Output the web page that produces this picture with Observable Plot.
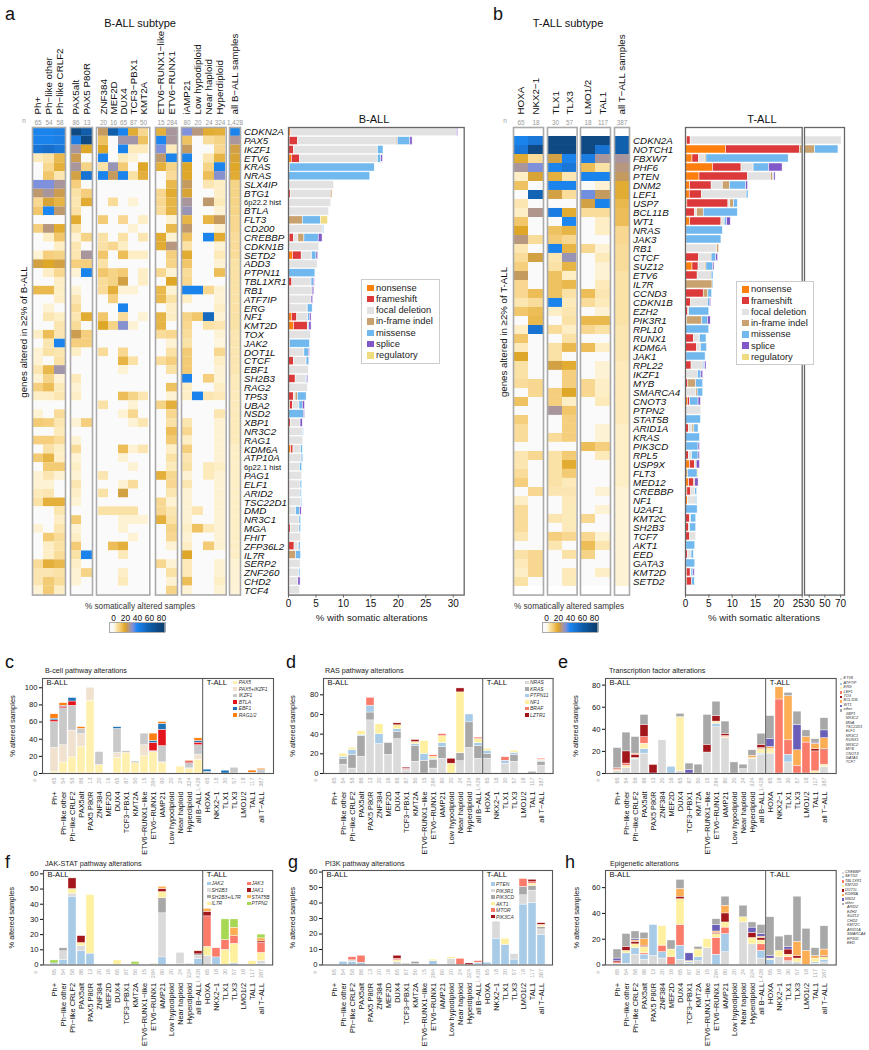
<!DOCTYPE html>
<html><head><meta charset="utf-8">
<script src="https://cdn.jsdelivr.net/npm/d3@7"></script>
<script src="https://cdn.jsdelivr.net/npm/@observablehq/plot@0.6"></script>
<style>
html,body{margin:0;padding:0;background:#fff}
#root{position:relative;width:869px;height:1050px;overflow:hidden;font-family:"Liberation Sans",Arial,sans-serif;color:#111}
#root>svg,#root>figure{position:absolute;margin:0}
.t{position:absolute;white-space:nowrap;line-height:1}
.sw{position:absolute}
</style></head><body><div id="root"></div>
<script>
const genesA=["CDKN2A","PAX5","IKZF1","ETV6","KRAS","NRAS","SLX4IP","BTG1","6p22.2 hist","BTLA","FLT3","CD200","CREBBP","CDKN1B","SETD2","ADD3","PTPN11","TBL1XR1","RB1","ATF7IP","ERG","NF1","KMT2D","TOX","JAK2","DOT1L","CTCF","EBF1","SH2B3","RAG2","TP53","UBA2","NSD2","XBP1","NR3C2","RAG1","KDM6A","ATP10A","6p22.1 hist","PAG1","ELF1","ARID2","TSC22D1","DMD","NR3C1","MGA","FHIT","ZFP36L2","IL7R","SERP2","ZNF260","CHD2","TCF4"];
const colsA=["Ph+","Ph−like other","Ph−like CRLF2","PAX5alt","PAX5 P80R","ZNF384","MEF2D","DUX4","TCF3−PBX1","KMT2A","ETV6−RUNX1−like","ETV6−RUNX1","iAMP21","Low hypodiploid","Near haploid","Hyperdiploid","all B−ALL samples"];
const nA=[65,54,58,86,13,20,16,65,87,50,15,284,80,20,24,324,1428];
const heatA=[
[42,42,44,75,62,24,62,42,19,9,18,28,33,26,19,18,42],
[42,42,44,45,75,14,0,29,29,14,40,28,14,0,8,10,28],
[50,52,48,28,20,20,0,42,5,5,33,5,24,0,0,9,22],
[5,7,16,23,0,42,0,5,3,0,25,42,42,0,6,17,21],
[0,9,18,28,10,7,30,12,0,20,18,10,20,0,10,42,20],
[0,13,6,22,50,42,24,42,7,18,0,8,20,0,15,32,19],
[33,33,28,11,0,0,0,0,0,0,0,16,24,0,6,4,10],
[25,28,23,7,11,0,0,0,0,0,9,19,21,0,0,4,10],
[9,21,17,6,19,0,8,0,3,0,9,17,28,0,25,5,10],
[13,40,25,7,0,0,0,0,0,0,8,17,30,0,0,3,10],
[0,0,0,19,0,12,0,9,0,4,0,3,17,0,17,24,9],
[11,26,19,7,0,0,0,0,3,0,0,16,25,0,0,3,9],
[0,4,13,3,10,7,0,7,0,6,19,3,14,0,42,19,8],
[0,0,4,6,0,7,9,4,0,0,19,26,7,0,0,3,8],
[3,11,10,6,28,13,0,15,4,4,0,11,19,0,0,5,8],
[22,20,22,11,11,7,0,0,0,0,0,10,13,0,0,3,7],
[0,4,9,3,42,13,10,12,0,4,9,3,8,0,0,15,7],
[0,0,4,0,0,8,10,22,0,4,0,20,9,0,0,0,7],
[16,16,4,3,0,8,18,3,3,0,16,3,42,42,9,3,7],
[0,0,4,6,0,0,11,0,0,0,16,7,4,0,0,3,7],
[0,3,0,8,0,0,0,42,0,0,0,4,0,0,0,4,7],
[0,6,4,6,19,13,0,8,0,3,17,4,10,13,55,3,7],
[0,0,6,8,0,20,10,32,3,0,17,0,9,0,7,6,7],
[4,15,6,23,11,0,0,0,0,0,8,9,8,0,0,3,6],
[0,6,42,11,11,0,0,0,0,0,0,3,7,0,0,2,6],
[3,7,6,4,0,8,0,9,0,0,0,7,12,0,0,9,6],
[3,0,7,0,0,0,0,17,7,0,8,11,12,0,0,4,6],
[6,16,29,0,0,0,0,3,0,0,0,7,12,0,0,3,6],
[3,10,3,5,0,0,0,0,0,0,0,0,42,0,11,3,5],
[11,15,5,3,0,0,0,0,0,0,0,14,4,0,0,4,5],
[4,4,6,4,0,0,0,15,10,6,0,3,4,42,6,5,5],
[0,0,0,0,0,7,0,0,3,0,10,18,0,0,0,0,5],
[3,0,8,0,0,0,0,3,9,0,0,9,0,0,0,6,5],
[12,11,6,3,11,0,0,0,3,6,0,7,6,0,0,3,5],
[0,0,5,0,0,0,0,0,0,0,0,15,9,0,0,3,5],
[11,11,8,3,0,0,0,0,0,0,0,12,4,0,0,3,5],
[0,7,4,8,0,0,0,15,3,6,0,4,11,0,0,3,4],
[12,17,4,3,0,0,0,3,0,0,0,7,6,0,0,3,4],
[0,12,12,4,0,0,0,0,3,0,0,5,7,0,5,4,4],
[3,6,3,3,0,6,0,0,0,0,18,9,3,0,5,3,4],
[3,3,0,6,0,0,0,3,8,0,0,9,6,0,0,3,4],
[5,6,0,4,0,7,0,22,0,0,0,6,3,0,0,3,4],
[7,18,18,3,0,0,0,0,0,0,9,3,3,0,0,3,4],
[0,0,6,0,0,7,7,7,7,0,9,6,3,6,0,3,4],
[0,0,4,12,0,0,0,3,3,3,18,7,3,0,0,3,4],
[3,0,6,3,0,0,0,3,0,0,0,10,4,14,5,3,4],
[0,12,8,4,0,0,0,0,3,0,0,9,3,0,0,3,4],
[0,4,7,12,0,0,15,18,0,0,0,3,4,0,12,3,4],
[0,4,8,7,42,0,0,5,0,0,0,0,20,0,0,0,4],
[8,18,16,4,0,0,0,0,0,0,9,3,5,0,0,3,3],
[6,6,7,3,10,0,0,4,0,0,0,7,5,0,0,3,3],
[6,12,8,3,0,0,0,5,0,0,0,3,15,0,0,4,3],
[3,12,4,0,0,0,0,0,0,0,0,10,3,0,0,3,3]];

const genesB=["CDKN2A","NOTCH1","FBXW7","PHF6","PTEN","DNM2","LEF1","USP7","BCL11B","WT1","NRAS","JAK3","RB1","CTCF","SUZ12","ETV6","IL7R","CCND3","CDKN1B","EZH2","PIK3R1","RPL10","RUNX1","KDM6A","JAK1","RPL22","IKZF1","MYB","SMARCA4","CNOT3","PTPN2","STAT5B","ARID1A","KRAS","PIK3CD","RPL5","USP9X","FLT3","MED12","CREBBP","NF1","U2AF1","KMT2C","SH2B3","TCF7","AKT1","EED","GATA3","KMT2D","SETD2"];
const colsB=["HOXA","NKX2−1","TLX1","TLX3","LMO1/2","TAL1","all T−ALL samples"];
const nB=[65,18,30,57,18,117,387];
const heatB=[
[42,48,75,75,75,75,60],[48,75,75,75,75,50,60],[19,8,22,42,45,28,28],[28,33,42,48,15,7,26],[4,21,18,6,42,42,24],
[14,0,42,42,0,3,19],[0,58,22,8,34,24,19],[6,0,0,0,22,42,16],[4,27,45,19,8,8,15],[13,0,0,40,0,4,15],
[20,0,14,17,0,4,9],[26,8,12,9,0,0,9],[6,0,42,17,9,3,8],[8,22,6,30,0,5,8],[11,0,7,17,0,3,8],
[24,0,14,4,0,3,7],[9,0,14,16,0,5,7],[9,15,14,7,15,6,7],[6,8,42,5,8,5,7],[13,15,4,6,0,3,7],
[0,16,0,7,16,16,7],[4,50,8,4,9,7,6],[13,0,0,7,0,0,6],[5,0,7,16,15,4,6],[20,0,7,0,0,0,6],
[7,0,22,19,0,3,5],[7,0,0,11,0,3,5],[8,9,0,11,9,4,5],[0,9,11,20,9,4,5],[14,0,11,4,0,5,5],
[0,0,28,13,0,0,5],[11,0,0,11,0,0,5],[8,0,0,11,0,3,4],[8,0,8,11,0,3,4],[0,0,0,0,15,11,4],
[6,9,7,12,0,5,4],[6,0,7,19,0,0,4],[8,0,7,12,0,0,4],[11,0,7,5,0,0,4],[0,9,6,6,0,3,3],
[4,0,0,5,0,0,3],[8,0,0,5,0,3,3],[8,0,6,5,9,0,3],[8,0,0,5,0,0,3],[6,0,11,9,9,3,3],
[0,0,6,0,15,6,3],[7,9,0,7,10,0,3],[5,9,0,0,0,0,3],[4,9,0,5,0,4,3],[7,0,0,5,0,0,3]];

const altTypes=["nonsense","frameshift","focal deletion","in-frame indel","missense","splice","regulatory"];
const altColors=["#ff7f0e","#dc3a3a","#e2e2e2","#c9a26f","#70b8ee","#8158c8","#efdc80"];
const barsA=[
[.4,.1,30.2,0,0,.2,0],[.2,1.5,18,.2,2.3,.4,0],[0,1,15.3,0,1,0,0],[.6,1.5,14.2,0,.6,.3,0],[0,0,0,.3,15.4,0,0],[0,0,0,0,14.9,0,0],
[0,0,8.3,0,0,0,0],[0,.4,7.3,.3,0,0,0],[0,.3,7.5,0,0,0,0],[0,.1,7.3,0,0,0,0],[0,0,0,2.6,3.3,0,1.3],[0,0,6.3,0,.2,0,0],
[.2,.8,.8,1.1,2.6,.7,0],[0,0,5.6,0,0,0,0],[.8,1.6,1.9,0,.8,.3,0],[0,0,5.3,0,0,0,0],[0,0,0,0,4.9,0,0],[0,.7,3.5,0,.4,.2,0],
[0,.2,4.2,0,0,.3,0],[0,.3,3.9,0,0,.3,0],[0,.3,3.1,.1,.9,0,0],[.6,1,2,0,.3,.3,0],[1,2.5,0,.1,.2,.4,0],[0,0,4.1,0,0,0,0],
[0,0,0,.3,3.6,0,0],[0,.3,2.6,0,.8,.2,0],[.1,.9,2.2,.1,.5,0,0],[0,0,3.7,0,0,0,0],[0,1.3,1.9,0,.2,.2,0],[0,0,3.5,0,0,0,0],
[0,1,.3,.4,1.6,0,0],[.3,.5,1.2,0,.6,.4,0],[0,0,0,0,2.8,.2,0],[0,.4,1.8,0,0,.4,0],[0,0,2.7,0,.1,0,0],[0,.2,2.5,0,0,0,0],
[.5,.4,1.4,0,.3,0,0],[0,0,2.4,0,.3,0,0],[0,.2,1.9,0,.4,0,0],[0,.1,2.4,0,0,0,0],[0,.3,1.9,0,.3,0,0],[.1,.2,1.9,0,.2,0,0],
[0,0,2.3,0,.2,0,0],[0,0,1.4,0,.7,.3,0],[0,.3,1.7,0,.3,0,0],[0,.4,1.6,0,.3,0,0],[0,0,2.3,0,0,0,0],[0,1.1,.7,.1,.3,0,0],
[0,0,0,1.4,.9,0,0],[0,0,2.2,0,0,0,0],[0,0,2,0,.2,0,0],[0,.3,1.5,0,0,.4,0],[0,0,2.1,0,0,0,0]];
const barsB=[
[.3,.8,70.2,0,0,0,0],[8.7,15.8,0,13,29.8,0,0],[1.5,1.4,1.3,.3,17.6,0,0],[5.9,6.1,2.6,0,3.3,2.9,0],[3,10.4,4.9,.5,.2,.3,0],
[1,4.6,2.4,1.5,3.5,.4,0],[.9,2.6,9.6,0,.4,0,0],[.4,8.8,.4,.8,.8,0,0],[0,2,.5,1.4,7.3,0,0],[1,6.7,.7,0,.5,.8,0],
[0,0,0,.2,7.8,0,0],[0,0,0,.2,7.5,0,0],[0,.3,6.5,.4,0,0,0],[0,2.9,2.5,.2,1,.4,0],[1.5,1.3,1.4,.3,1.4,.3,0],
[0,2.6,2.8,.2,.4,0,0],[0,0,0,5.8,.2,0,0],[0,3.9,0,1,.8,0,0],[0,1.2,3.6,0,.4,.3,0],[0,.6,.2,0,4.3,0,0],
[0,0,.3,3.3,1.2,.6,0],[0,0,0,0,5.1,0,0],[0,1.8,1.2,.1,1.4,0,0],[0,2.5,.6,.2,1.3,0,0],[0,0,0,.2,4.1,0,0],
[0,1.3,2.6,0,.3,.3,0],[0,.3,2.4,0,.7,.4,0],[0,.6,0,1.7,1.5,0,0],[0,.3,2,.3,1.2,0,0],[.5,.5,0,0,1.8,.5,0],
[0,0,3.4,0,0,0,0],[0,0,0,0,3.3,0,0],[0,.7,.8,.4,.9,0,0],[0,0,0,0,3.1,0,0],[0,0,0,.2,2.6,.3,0],
[0,.7,.7,0,1.4,.3,0],[1,1,.4,0,0,.7,0],[0,0,0,.6,2,0,.2],[.8,1,0,.3,0,.7,0],[.4,.8,.9,0,.4,0,0],
[.5,0,1.7,0,.3,0,0],[0,0,0,0,2.6,0,0],[0,1,.2,0,1.1,0,0],[0,.8,.2,0,1.3,0,0],[0,1,1.3,0,0,0,0],
[0,0,0,.2,1.9,0,0],[0,.5,.8,0,.5,0,0],[0,.2,0,0,1.9,0,0],[.3,.8,.2,0,.4,.3,0],[.3,1.1,0,0,.6,0,0]];

const cats=["Ph+","Ph−like other","Ph−like CRLF2","PAX5alt","PAX5 P80R","ZNF384","MEF2D","DUX4","TCF3−PBX1","KMT2A","ETV6−RUNX1−like","ETV6−RUNX1","iAMP21","Low hypodiploid","Near haploid","Hyperdiploid","all B−ALL","HOXA","NKX2−1","TLX1","TLX3","LMO1/2","TAL1","all T−ALL"];
const catN=[65,54,58,86,13,20,16,65,87,50,15,284,80,20,24,324,1428,65,18,30,57,18,117,387];

const bcellSeries=["PAX5","PAX5+IKZF1","IKZF1","BTLA","EBF1","RAG1/2"];
const bcellColors=["#fff0b0","#f1e2cf","#c9c9c9","#e3141c","#1f74b8","#ff7f10"];
const bcellVals=[[2,28,30,2,2,5],[13,20,43,2,1,3],[19,31,29,5,4,0],[31,15,6,0,0,2],[85,15,0,0,0,0],[10,0,15,0,0,0],[0,0,0,0,0,0],[18,6,28,0,2,0],[24,0,2,0,0,0],[12,0,2,0,0,0],[20,13,13.5,0,0,0],[25,0,1,9.5,2.5,8.5],[12,1,19,19,7,2],[0,0,0,0,0,0],[8,0,0,0,0,0],[5,1,6,2,0,1],[16,6,11,3,2,3],[0,0,2,0,2.5,0],[0,0,0,0,0,0],[0,0,0,0,3.3,0],[0,0,6.7,0,0,0],[0,0,0,0,0,0],[0,0,1,0,0,2.4],[0,0,3,0,1,1.5]];

const rasSeries=["NRAS","KRAS","PTPN11","NF1","BRAF","LZTR1"];
const rasColors=["#dadada","#a8a8a8","#a8cbe8","#fff0a0","#fb7b6b","#a3171c"];
const rasVals=[[0,0,0,0,0,0],[9,6,2,3,0,0],[5,14,5,2,0,0],[17,21,1,4,0,0],[54,8,7,0,8,0],[30,0,10,10,0,0],[19,12,0,0,0,0],[35,7,3,4,0,2],[3,1,0,0,1,1],[12,16,2,2,0,2],[0,13,7,13,0,0],[5,9,1,2,1.5,0],[15,12,4,7,2,0],[0,0,0,10,0,5],[12.5,8,0,62,0,4],[26,26,8,0,0,0],[15,13,3,4,1.5,0],[15,5,3,2,0,0],[0,0,0,0,0,0],[10,0,3,0,3.5,0],[12,7,2,2,0,0],[0,0,0,0,0,0],[0,1.7,0,0,0,0],[8,4,1,1,1,0]];

const tfSeries=["ETV6","ATF7IP","ERG","LEF1","TOX","BCL11B","WT1","other"];
const tfColors=["#dadada","#a8cbe8","#fff0b0","#fb7b6b","#a3171c","#fdae55","#6a5fb8","#a8a8a8"];
const tfOther=["XBP1","NR3C2","MGA","TSC22D1","ELF1","NR3C1","RUNX1","NR3C2","MYB","CNOT3","GATA3","TCF7"];
const tfVals=[[2,0,1,1,1,0,0,18],[5,0,2,2,11,0,0,17],[12,1,1,0,3,1,0,15],[18,4,5,6,11,0,0,9],[0,0,0,0,7.7,0,0,0],[30,0,0,0,0,0,0,0],[0,6,0,0,0,0,0,0],[2,0,49,0,0,0,0,3],[0,0,0,0,0,0,3,6],[0,0,0,0,0,0,0,8],[19,0,0,0,7,0,0,27],[42,3,2,0,5,0,0,13],[32,0,1,1,2,0,0,11],[0,0,0,0,0,0,0,10],[4,0,0,0,0,0,0,4],[13,0,1,0,0,2,0,5],[17,1,4,1,3,0,0,10],[18,0,4,0,0,2,7,21],[0,0,0,67,0,11,0,0],[10,7,0,13,0,40,0,3],[0,0,0,7,0,14,23,12],[0,0,0,28,0,5,0,6],[0,0,2,18,2,5,1,3],[6,0,2,13,1,10,7,11]];

const jakSeries=["JAK2","SH2B3","SH2B3+IL7R","IL7R","JAK3","JAK1","STAT5B","PTPN2"];
const jakColors=["#a8cbe8","#dadada","#a8a8a8","#fff0a0","#fb7b6b","#a3171c","#fdae55","#a6d854"];
const jakVals=[[1,0,0,0,0,0,0,2],[3.5,5.5,2,0,0,0,0,0],[45,2,0,3,0,7,0,0],[9,3.5,0,2,0,4.5,0,0],[7.5,0,0,38.5,0,0,0,0],[0,0,0,0,0,0,0,0],[0,0,0,0,0,0,0,0],[0,0,0,3,0,0,0,0],[0,0,0,0,0,0,0,0],[0,.3,0,0,0,0,0,1.7],[0,0,0,0,0,0,0,0],[.3,0,0,0,0,0,0,.3],[5,29,10,4,0,2,1.5,0],[0,0,0,0,0,0,0,0],[.5,7.5,0,0,0,0,0,0],[.5,.5,0,0,0,0,0,0],[4,2,1,0,0,2,.5,0],[0,6,0,6,20,3,2,0],[5,0,0,0,6,0,0,0],[0,0,0,10,6.5,0,0,13.5],[1,0,0,13,5,0,5.5,5.5],[0,0,0,0,0,0,0,0],[0,0,0,2.5,0,0,0,0],[.5,2,0,5.5,6.5,1,2,2.5]];

const piSeries=["PTEN","PIK3R1","PIK3CD","AKT1","MTOR","PIK3CA"];
const piColors=["#a8cbe8","#dadada","#a8a8a8","#fff0a0","#fb7b6b","#a3171c"];
const piVals=[[0,0,0,0,0,0],[2,0,0,0,0,0],[2,1,0,0,2,0],[1.5,0,0,0,4.5,0],[0,0,0,0,0,0],[0,0,0,0,0,0],[0,0,0,0,0,0],[0,2,0,1,1,2],[0,1,0,0,0,0],[0,.5,1.5,0,0,0],[0,0,0,0,0,0],[2.5,0,0,1,0,0],[0,0,0,0,0,0],[0,4,0,1,0,0],[0,0,0,0,4,0],[0,0,0,0,0,1],[1,.5,0,0,1,0],[1.5,0,0,0,0,0],[17,11,0,0,0,0],[13,0,0,4,0,0],[3.5,3.5,0,0,0,0],[39,6,5.5,0,5,0],[40,8,3,1.5,1,1.5],[19.5,3.5,1.5,1,.5,1]];

const epiSeries=["CREBBP","SETD2","TBL1XR1","KMT2D","DOT1L","KDM6A","NSD2","other"];
const epiColors=["#dadada","#a8cbe8","#fb7b6b","#fff0a0","#a3171c","#fdae55","#6a5fb8","#a8a8a8"];
const epiOther=["ARID2","EZH2","SUZ12","CHD2","KMT2C","ARID1A","SMARCA4","EP300","EED"];
const epiVals=[[0,1,1,0,1,0,2,7],[1,8,0,2,3,0,0,10],[8,5,0,3,2,1,1,6],[4,4,1,5,1,5,0,5],[7,24,0,0,0,0,0,0],[5,5,5,15,0,0,0,0],[0,0,6,6,0,0,0,7],[4,11,16,20,2,6,0,7],[1,1,0,1,0,0,6,0],[3,3,0,6,0,0,0,2],[13,0,0,7,0,0,0,0],[0,8,13,3,1,1,5,4.5],[10,14,5,4,7,6,0,7],[0,0,0,0,0,0,0,0],[33,0,0,4,0,0,0,9],[16,0,0,5,4,0,4,4],[5,6,5,3,2,1,2,7],[0,4,0,1,0,0,2,30],[6,0,0,5,0,0,0,11],[3,0,3,2,4,0,2,9],[2,0,0,3,2,11,0,35],[0,0,0,0,0,11,0,17],[1,1,0,3,0,2,0,6],[2,2,0,2,1,5,0,18]];

const root=document.getElementById("root");
const FONT='"Liberation Sans",Arial,sans-serif';
const style={background:"transparent",fontFamily:FONT,overflow:"visible"};
function put(node,x,y){node.style.left=x+"px";node.style.top=y+"px";root.appendChild(node);return node;}
function label(text,x,y,o={}){
  const d=document.createElement("div");d.className="t";d.textContent=text;
  d.style.fontSize=(o.size||10)+"px";
  if(o.italic)d.style.fontStyle="italic";
  if(o.color)d.style.color=o.color;
  const ax=o.anchor==="middle"?"-50%":o.anchor==="end"?"-100%":"0";
  d.style.transform=`translate(${ax},-50%)`+(o.rot?` rotate(${o.rot}deg)`:"");
  d.style.transformOrigin="center";
  d.style.left=x+"px";d.style.top=y+"px";root.appendChild(d);
}
const heatColor={type:"linear",clamp:true,
  domain:[0,1.5,4,8,13,20,24,28,33,40,50,60,75,90],
  range:["#fafafa","#fef8e6","#fdeec6","#f9dc9a","#f2c76b","#dfa728","#c59a5f","#a8969c","#7f90dc","#1c87f2","#1973d2","#1160ae","#0f4a85","#0c3a6a"]};

function heatGroup(cols,ns,rows,genes,first,x0,x1,y0,y1,showGenes){
  const mt=110,ml=4,mb=4,mr=showGenes?60:4;
  const data=[];
  genes.forEach((g,i)=>cols.forEach((c,j)=>data.push({gene:g,col:c,v:rows[i][first+j]})));
  const nOf=new Map(cols.map((c,j)=>[c,ns[j]]));
  const hist=genes.filter(g=>g.includes("hist")),plain=genes.filter(g=>!g.includes("hist"));
  const marks=[
    Plot.cell(data,{x:"col",y:"gene",fill:"v"}),
    Plot.frame({stroke:"#aaa",strokeWidth:1.6}),
    Plot.axisX({anchor:"top",tickRotate:-90,tickSize:0,tickPadding:13,fontSize:9.8,label:null}),
    Plot.axisX({anchor:"top",tickSize:0,tickPadding:2.5,fontSize:6.4,fill:"#999",tickFormat:d=>nOf.get(d),label:null})];
  if(showGenes){
    marks.push(Plot.axisY({anchor:"right",ticks:plain,tickSize:0,tickPadding:3.5,fontSize:9.8,fontStyle:"italic",label:null}));
    if(hist.length)marks.push(Plot.axisY({anchor:"right",ticks:hist,tickSize:0,tickPadding:3.5,fontSize:7.6,label:null}));
  }
  const p=Plot.plot({width:x1-x0+ml+mr,height:y1-y0+mt+mb,marginLeft:ml,marginRight:mr,marginTop:mt,marginBottom:mb,style,
    x:{domain:cols,padding:0,axis:null,label:null},y:{domain:genes,padding:0,axis:null,label:null},color:heatColor,marks});
  put(p,x0-ml,y0-mt);
}
const Y0=126.7,Y1=594.3;
[[0,3,32,65],[3,5,69.5,91.5],[5,10,95.7,149],[10,12,155,177],[12,16,181,225.7],[16,17,229.3,240.3]].forEach(([a,b,x0,x1])=>
  heatGroup(colsA.slice(a,b),nA.slice(a,b),heatA,genesA,a,x0,x1,Y0,Y1,b===17));
[[0,2,512.7,542.7],[2,4,546.7,576.3],[4,6,580.3,610.3],[6,7,614.3,629.3]].forEach(([a,b,x0,x1])=>
  heatGroup(colsB.slice(a,b),nB.slice(a,b),heatB,genesB,a,x0,x1,Y0,Y1,b===7));

function altPanel(genes,rows,x0,x1,domain,ticks,clip,nudged){
  const data=[];
  genes.forEach((g,i)=>altTypes.forEach((t,j)=>{if(rows[i][j]>0)data.push({gene:g,type:t,v:rows[i][j]});}));
  const ml=4,mr=4,mt=4,mb=20;
  const marks=[
      Plot.barX(data,{x:"v",y:"gene",fill:"type",order:altTypes,stroke:"white",strokeWidth:.5,clip}),
      Plot.frame({stroke:"#666",strokeWidth:1.3}),
      Plot.axisX({anchor:"bottom",ticks,tickSize:3,tickPadding:2,fontSize:10,tickFormat:d=>d===nudged?"":d,stroke:"#666",label:null})];
  if(nudged!==undefined)marks.push(Plot.axisX({anchor:"bottom",ticks:[nudged],tickSize:0,tickPadding:5,fontSize:10,dx:-4,tickFormat:d=>d,label:null}));
  const p=Plot.plot({width:x1-x0+ml+mr,height:Y1-Y0+mt+mb,marginLeft:ml,marginRight:mr,marginTop:mt,marginBottom:mb,style,
    x:{domain,axis:null,label:null},y:{domain:genes,padding:.09,axis:null,label:null},
    color:{domain:altTypes,range:altColors},marks});
  put(p,x0-ml,Y0-mt);
}
altPanel(genesA,barsA,288.3,464,[0,32],[0,5,10,15,20,25,30],false);
altPanel(genesB,barsB,685,801.7,[0,25],[0,5,10,15,20,25],true,25);
altPanel(genesB,barsB,804.3,844.3,[24,75],[30,50,70],true);

function stackPanel(series,colors,vals,x0,x1,y0,y1,domainY,ticks,ylabX){
  const data=[];
  cats.forEach((c,i)=>series.forEach((s,j)=>{if(vals[i][j]>0)data.push({cat:c,series:s,v:vals[i][j]});}));
  const nOf=new Map(cats.map((c,i)=>[c,catN[i]]));
  const ml=32,mr=4,mt=4,mb=78;
  const step=(x1-x0)/cats.length;
  const p=Plot.plot({width:x1-x0+ml+mr,height:y1-y0+mt+mb,marginLeft:ml,marginRight:mr,marginTop:mt,marginBottom:mb,style,
    x:{domain:cats,padding:.14,axis:null,label:null},y:{domain:domainY,axis:null,label:null},
    color:{domain:series,range:colors},
    marks:[
      Plot.barY(data,{x:"cat",y:"v",fill:"series",order:series,stroke:"white",strokeWidth:.4}),
      Plot.frame({stroke:"#555",strokeWidth:1.1}),
      Plot.ruleX(["HOXA"],{dx:-step/2,stroke:"#555",strokeWidth:1}),
      Plot.axisY({anchor:"left",ticks,tickSize:3,tickPadding:2,fontSize:7.6,label:null}),
      Plot.axisX({anchor:"bottom",tickRotate:-90,tickSize:0,tickPadding:18,fontSize:7.4,label:null}),
      Plot.axisX({anchor:"bottom",tickRotate:-90,tickSize:0,tickPadding:4,fontSize:5.5,fill:"#aaa",tickFormat:d=>nOf.get(d),label:null}),
      Plot.text(["B-ALL"],{frameAnchor:"top-left",dx:4,dy:1.5,textAnchor:"start",fontSize:7.6}),
      Plot.text(["T-ALL"],{x:()=>"HOXA",frameAnchor:"top",dx:-step/2+4,dy:1.5,textAnchor:"start",fontSize:7.6}),
      Plot.text(["% altered samples"],{frameAnchor:"left",textAnchor:"middle",rotate:-90,dx:ylabX-x0,fontSize:7.5})]});
  put(p,x0-ml,y0-mt);
  label("n",x0-7,y1+8,{size:5.5,color:"#aaa",anchor:"middle"});
}
stackPanel(bcellSeries,bcellColors,bcellVals,41.7,272.7,677.7,772.7,[0,110.8],[0,20,40,60,80,100],12);
stackPanel(rasSeries,rasColors,rasVals,322.7,552.3,677.7,772.7,[0,96.6],[0,20,40,60,80],292);
stackPanel(tfSeries,tfColors,tfVals,605,835.7,677.7,772.7,[0,86],[0,20,40,60,80],575);
stackPanel(jakSeries,jakColors,jakVals,42.8,272,870,964.5,[0,62.2],[0,10,20,30,40,50,60],11);
stackPanel(piSeries,piColors,piVals,322,552,870,964.5,[0,61],[0,10,20,30,40,50,60],292);
stackPanel(epiSeries,epiColors,epiVals,605,835.7,870,964.5,[0,73.3],[0,20,40,60],576);

function mini(items,colors,xs,xt,y,dy,size,sw){
  items.forEach((t,i)=>{
    const yy=y+i*dy;
    if(colors[i]){const s=document.createElement("div");s.className="sw";s.style.cssText=`left:${xs}px;top:${yy-sw/2}px;width:${sw}px;height:${sw}px;background:${colors[i]}`;root.appendChild(s);}
    label(t,xt,yy,{size,italic:true,color:"#333"});
  });
}
mini(bcellSeries,bcellColors,233,238.7,682.3,6.5,5,3.6);
mini(rasSeries,rasColors,525,530,682.3,6.5,5,3.6);
mini(tfSeries,tfColors,840,843.6,679.3,4.43,3.8,2.4);
mini(tfOther,[],0,845.7,679.3+8*4.43,4.43,3.8,2.4);
mini(jakSeries.slice(0,4),jakColors.slice(0,4),207,211.5,883.3,6.67,5,3.6);
mini(jakSeries.slice(4),jakColors.slice(4),247,251.5,883.3,6.67,5,3.6);
mini(piSeries,piColors,491,496,884,6.5,5,3.6);
mini(epiSeries,epiColors,841.5,845,872.7,4.47,3.8,2.4);
mini(epiOther,[],0,847,872.7+8*4.47,4.47,3.8,2.4);

function altLegend(x,y,w,h,xs,xt){
  const b=document.createElement("div");b.className="sw";
  b.style.cssText=`left:${x}px;top:${y}px;width:${w}px;height:${h}px;background:#fff;border:1px solid #ccc;box-sizing:border-box`;
  root.appendChild(b);
  altTypes.forEach((t,i)=>{
    const yy=y+8.7+i*11.25;
    const s=document.createElement("div");s.className="sw";
    s.style.cssText=`left:${xs}px;top:${yy-3.2}px;width:6.5px;height:6.5px;background:${altColors[i]}`;root.appendChild(s);
    label(t,xt,yy,{size:9.4,color:"#222"});
  });
}
altLegend(361,279,79,85,367,376);
altLegend(736,280.7,78,84.5,742,751);

function ramp(x0,x1,zero){
  const mt=14,mb=1;
  const dom=[(x0-zero)/.6,(x1-zero)/.6];
  const steps=d3.range(Math.ceil(dom[0]),Math.floor(dom[1])+1,.5);
  const p=Plot.plot({width:x1-x0,height:mt+10+mb,marginLeft:0,marginRight:0,marginTop:mt,marginBottom:mb,style,
    x:{domain:dom,axis:null,label:null},y:{axis:null},color:heatColor,
    marks:[Plot.ruleX(steps,{stroke:d=>d,strokeWidth:1.2}),Plot.frame({stroke:"#aaa",strokeWidth:1}),
      Plot.axisX({anchor:"top",ticks:[0,20,40,60,80],tickSize:0,tickPadding:1.5,fontSize:8.4,tickFormat:d=>d,label:null})]});
  put(p,x0,608);
}
ramp(109,164.3,113);
ramp(541.7,597,545.7);

label("% somatically altered samples",140,606.5,{size:8.2,anchor:"middle",color:"#333"});
label("% somatically altered samples",569,606.5,{size:8.2,anchor:"middle",color:"#333"});
label("a",5,14,{size:18});label("b",493,14,{size:18});
label("B-ALL subtype",140,23,{size:11,anchor:"middle"});
label("T-ALL subtype",568,23,{size:11,anchor:"middle"});
label("B-ALL",374,119,{size:11,anchor:"middle"});
label("T-ALL",762,119,{size:11,anchor:"middle"});
label("n",24,120.7,{size:6.4,color:"#999",anchor:"middle"});
label("n",505,120.7,{size:6.4,color:"#999",anchor:"middle"});
label("genes altered in ≥2% of B-ALL",24,332,{size:9.7,anchor:"middle",rot:-90});
label("genes altered in ≥2% of T-ALL",504,332,{size:9.7,anchor:"middle",rot:-90});
label("% with somatic alterations",371.7,618,{size:9.7,anchor:"middle",color:"#222"});
label("% with somatic alterations",764,618,{size:9.7,anchor:"middle",color:"#222"});
[["c",5,662],["d",286,662],["e",558,662],["f",5,862],["g",288,862],["h",565,862]].forEach(([t,x,y])=>label(t,x,y,{size:18}));
[["B-cell pathway alterations",45,671],["RAS pathway alterations",325,671],["Transcription factor alterations",609,671],
 ["JAK-STAT pathway alterations",45,864],["PI3K pathway alterations",325,864],["Epigenetic alterations",610,864]].forEach(([t,x,y])=>label(t,x,y,{size:7.2,color:"#222"}));
</script></body></html>
